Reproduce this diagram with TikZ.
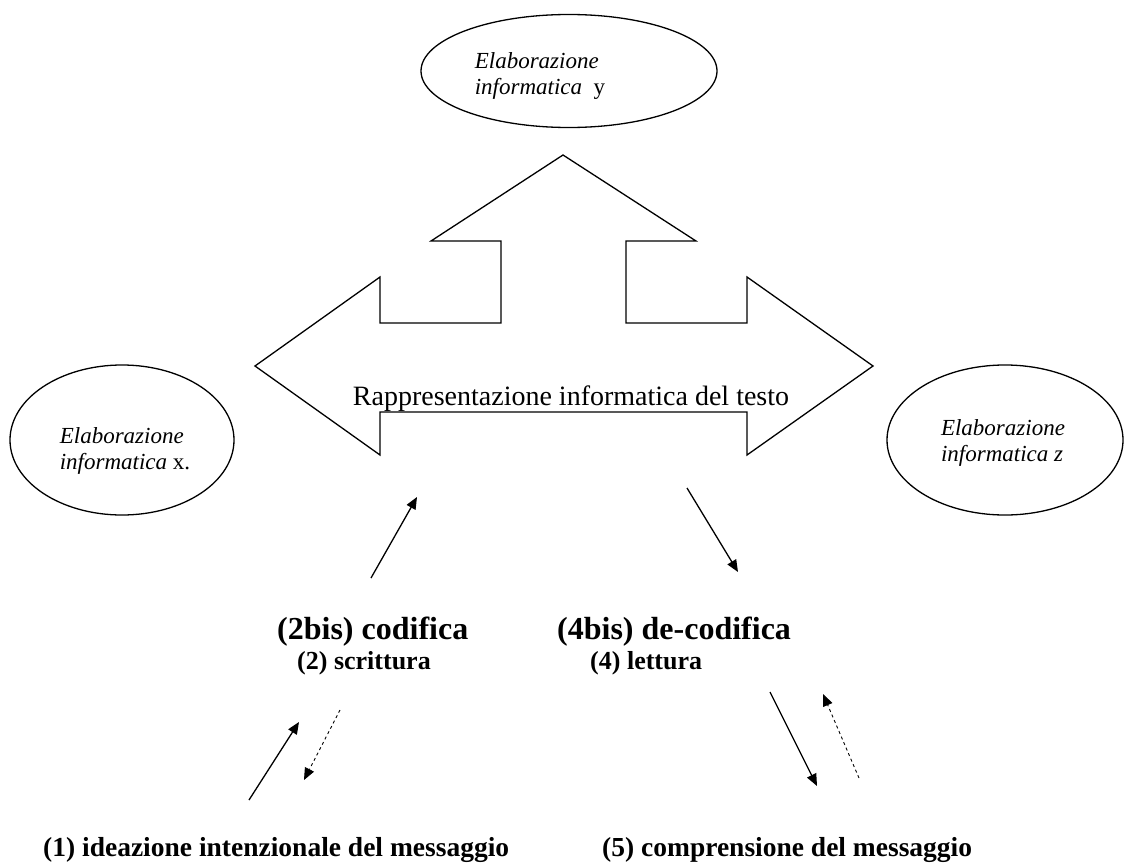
\documentclass[tikz,border=0pt]{standalone}
\usepackage{fontspec}
\setmainfont{Liberation Serif}
\usetikzlibrary{shapes.geometric, arrows.meta, positioning, calc}
\tikzset{
	elab/.style     ={ellipse, draw=black, line width=1.3pt, inner sep=0pt},
	elabtxt/.style  ={font=\fontsize{23}{26}\selectfont\itshape, align=left, inner sep=0pt},
	steplbl/.style  ={font=\fontsize{32}{36}\selectfont\bfseries, inner sep=0pt, anchor=west},
	sublbl/.style   ={font=\fontsize{26}{30}\selectfont\bfseries, inner sep=0pt, anchor=west},
	msglbl/.style   ={font=\fontsize{27.5}{30}\selectfont\bfseries, inner sep=0pt, anchor=west},
	flowarrow/.style={-{Triangle[length=12pt, width=10pt]}, line width=1.3pt},
	backarrow/.style={-{Triangle[length=12pt, width=10pt]}, line width=0.9pt, dash pattern=on 3pt off 3pt},
}
\begin{document}
\begin{tikzpicture}[x=1pt, y=-1pt]
	\useasboundingbox (0,0) rectangle (1127,867);
	% the three processing ellipses
	\node[elab, minimum width=296pt, minimum height=113pt] (ely) at (569,71) {};
	\node[elabtxt] (ty) at (540,76) {Elaborazione\\informatica~~\textup{y}};
	\node[elab, minimum width=224pt, minimum height=150pt] (elx) at (122,440) {};
	\node[elabtxt] (tx) at (125,451) {Elaborazione\\informatica \textup{x.}};
	\node[elab, minimum width=236pt, minimum height=150pt] (elz) at (1005,440) {};
	\node[elabtxt] (tz) at (1003,443) {Elaborazione\\informatica z};
	% the three-headed arrow
	\draw[line width=1.3pt] (563,155) -- (696,241) -- (626,241) -- (626,323) -- (747,323) -- (747,277)
		-- (873,366) -- (747,455) -- (747,412) -- (380,412) -- (380,455) -- (255,366) -- (380,277)
		-- (380,323) -- (501,323) -- (501,241) -- (431,241) -- cycle;
	\node[font=\fontsize{28}{30}\selectfont, inner sep=0pt] (rap) at (571,399) {Rappresentazione informatica del testo};
	% step labels
	\node[steplbl] (cod) at (277,632) {(2bis) codifica};
	\node[sublbl] (scr) at (297,663) {(2) scrittura};
	\node[steplbl] (dec) at (557,632) {(4bis) de-codifica};
	\node[sublbl] (let) at (590,663) {(4) lettura};
	\node[msglbl] (ide) at (43,850) {(1) ideazione intenzionale del messaggio};
	\node[msglbl] (com) at (602,850) {(5) comprensione del messaggio};
	% arrow end points
	\coordinate (a1s) at (371,578);
	\coordinate (a1e) at (417,497);
	\coordinate (a2s) at (687,488);
	\coordinate (a2e) at (738,572);
	\coordinate (a3s) at (249,800);
	\coordinate (a3e) at (299,722);
	\coordinate (a4s) at (340,710);
	\coordinate (a4e) at (304,780);
	\coordinate (a5s) at (770,692);
	\coordinate (a5e) at (817,786);
	\coordinate (a6s) at (859,778);
	\coordinate (a6e) at (823,694);
	\draw[flowarrow] (a1s) -- (a1e);
	\draw[flowarrow] (a2s) -- (a2e);
	\draw[flowarrow] (a3s) -- (a3e);
	\draw[backarrow] (a4s) -- (a4e);
	\draw[flowarrow] (a5s) -- (a5e);
	\draw[backarrow] (a6s) -- (a6e);
\end{tikzpicture}
\end{document}
